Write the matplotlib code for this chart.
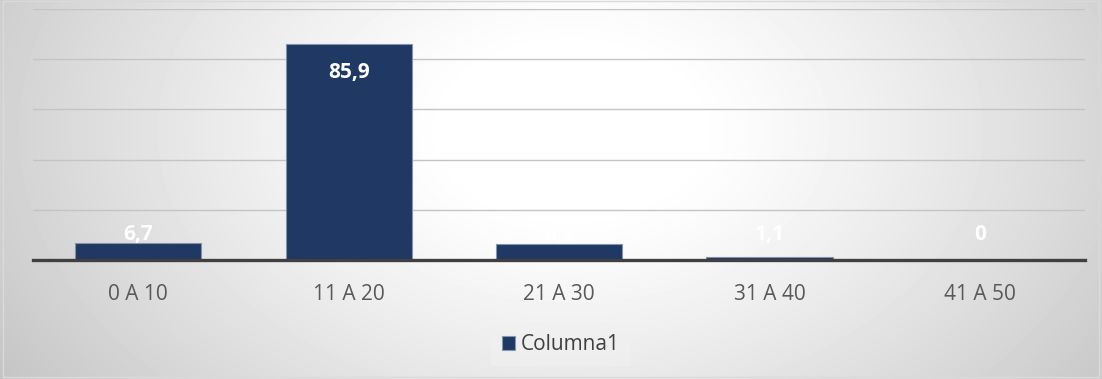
import numpy as np
import matplotlib
matplotlib.use('Agg')
import matplotlib.pyplot as plt
from matplotlib.patches import Rectangle

# datos
categorias = ['0 A 10', '11 A 20', '21 A 30', '31 A 40', '41 A 50']
valores = [6.7, 85.9, 6.3, 1.1, 0.0]
serie = 'Columna1'

plt.rcParams['font.family'] = ['Open Sans', 'DejaVu Sans']

fig = plt.figure(figsize=(11.02, 3.79), dpi=100)

# fondo con degradado radial (blanco al centro, gris en los bordes)
bg = fig.add_axes([0, 0, 1, 1], zorder=0)
yy, xx = np.mgrid[0:379, 0:1102]
d = np.sqrt(((xx - 570) / 600.0) ** 2 + ((yy - 130) / 400.0) ** 2)
t = np.clip((d - 0.2) / 0.9, 0, 1.3) ** 1.2
grad = 1.0 - 0.22 * t
bg.imshow(grad, cmap='gray', vmin=0, vmax=1, aspect='auto', extent=[0, 1, 0, 1], origin='upper')
bg.add_patch(Rectangle((0.003, 0.005), 0.994, 0.993, fill=False, edgecolor='#dadada', linewidth=1))
bg.set_xlim(0, 1)
bg.set_ylim(0, 1)
bg.axis('off')

ax = fig.add_axes([0.030, 0.314, 0.9546, 0.662], zorder=1)
ax.patch.set_alpha(0)

x = np.arange(len(categorias))
bars = ax.bar(x, valores, width=0.6, color='#203864', edgecolor='#8293ab', linewidth=0.8, zorder=2)

ax.set_xlim(-0.5, len(categorias) - 0.5)
ax.set_ylim(0, 100)
ax.set_yticks([0, 20, 40, 60, 80, 100])
ax.yaxis.grid(True, color='#c4c4c4', linewidth=1)
ax.set_axisbelow(True)
ax.tick_params(axis='y', left=False, labelleft=False)
ax.tick_params(axis='x', bottom=False, labelsize=15, labelcolor='#595959', pad=14)
ax.set_xticks(x)
ax.set_xticklabels(categorias)
for s in ['top', 'right', 'left']:
    ax.spines[s].set_visible(False)
ax.spines['bottom'].set_color('#404040')
ax.spines['bottom'].set_linewidth(2.4)
ax.spines['bottom'].set_zorder(3)

# etiquetas de datos
for xi, v in zip(x, valores):
    txt = f'{v:.1f}'.replace('.', ',')
    if v == 0:
        txt = '0'
    ax.text(xi, max(v - 11, 10), txt, ha='center', va='center', color='white',
            fontsize=15, fontweight='bold', zorder=4)

# leyenda
leg = fig.legend([Rectangle((0, 0), 1, 1, facecolor='#203864', edgecolor='#8497b0', linewidth=0.8)], [serie],
                 loc='center', bbox_to_anchor=(0.509, 0.091), frameon=True, fontsize=15,
                 handlelength=0.63, handleheight=0.63, handletextpad=0.25, borderpad=0.55,
                 borderaxespad=0)
leg.get_frame().set_facecolor('#f0f0f0')
leg.get_frame().set_edgecolor('none')
leg.get_frame().set_alpha(0.7)
leg.get_frame().set_boxstyle('square', pad=0)
for tx in leg.get_texts():
    tx.set_color('#404040')

fig.savefig('out.png', dpi=100)
